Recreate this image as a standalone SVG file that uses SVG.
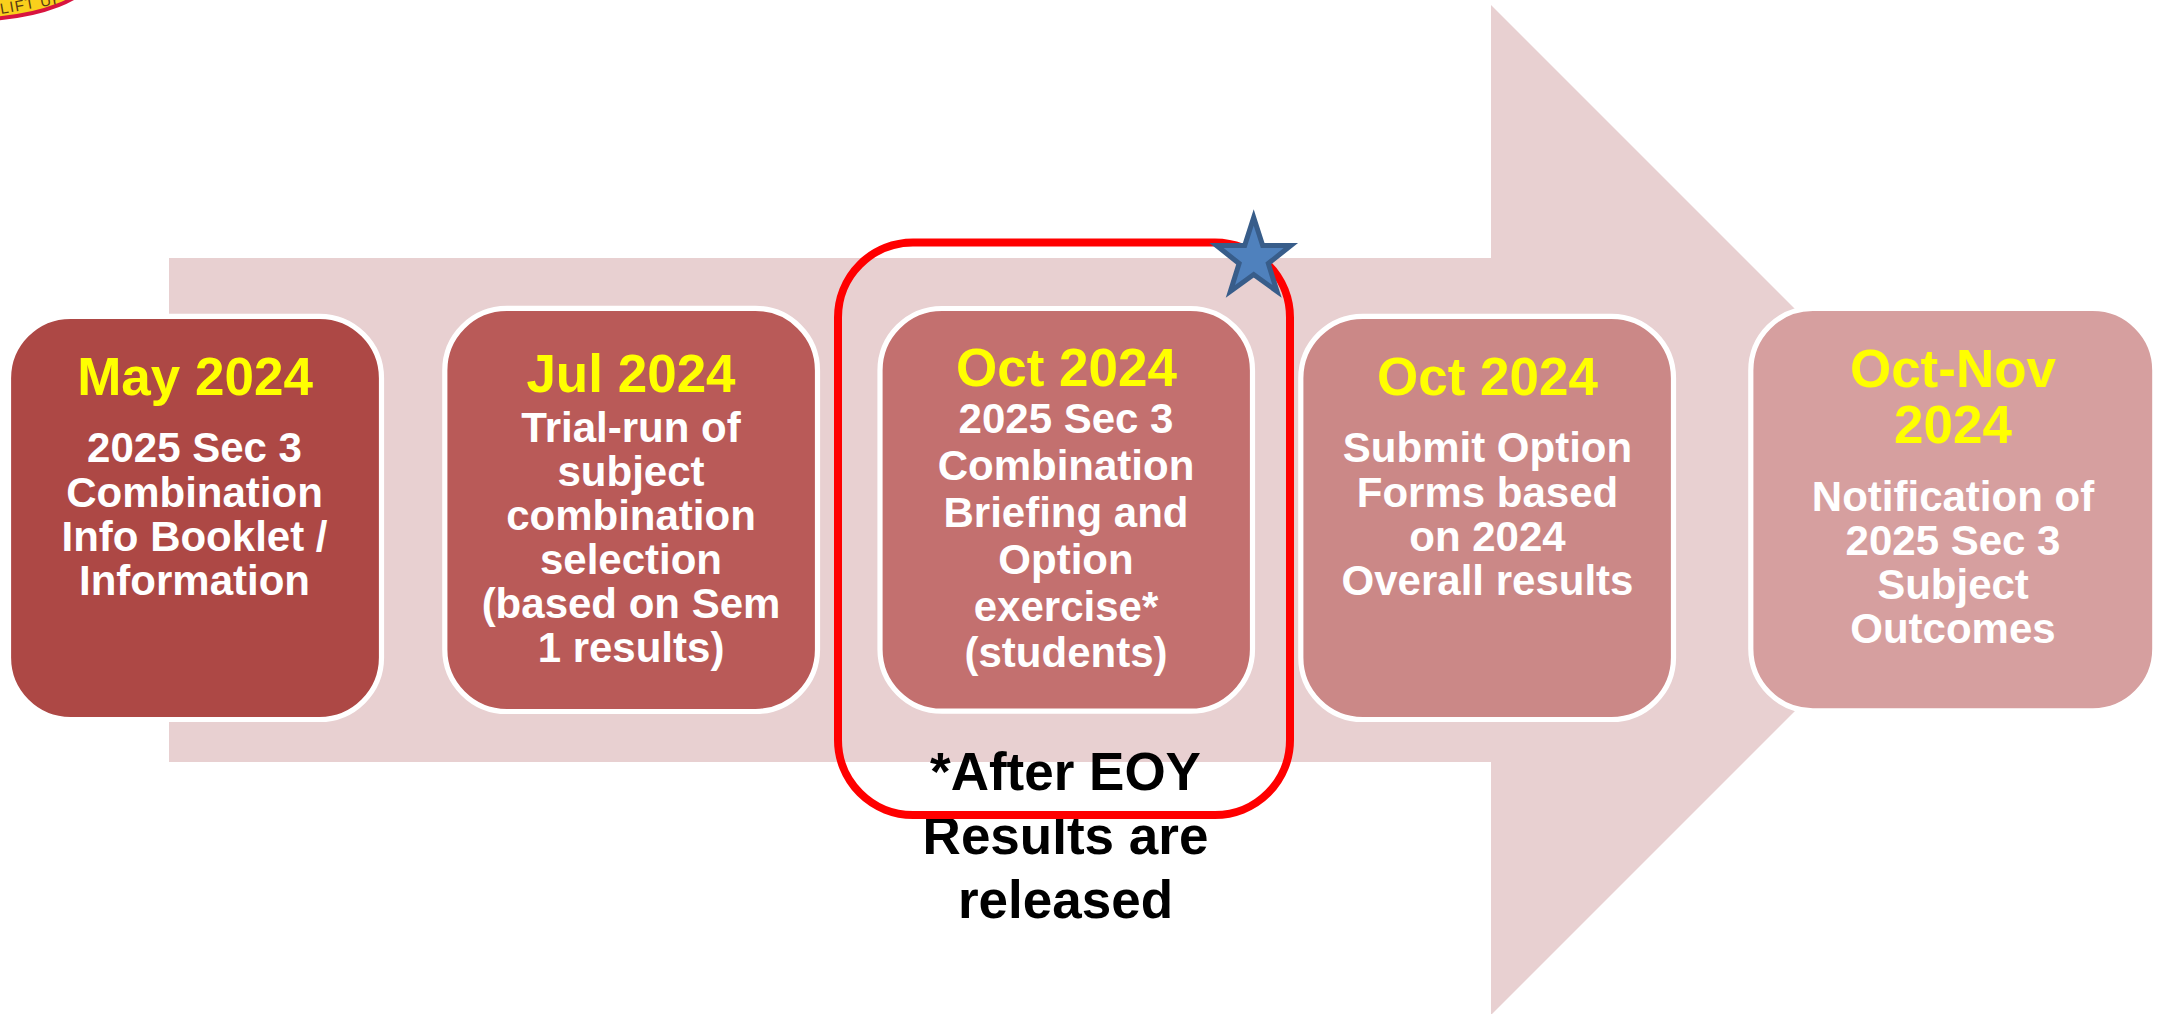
<svg xmlns="http://www.w3.org/2000/svg" width="2158" height="1014" viewBox="0 0 2158 1014">
<style>
text{font-family:"Liberation Sans",Arial,sans-serif;font-weight:bold;text-anchor:middle}
.d{fill:#ffff00;font-size:53px}
.b{fill:#ffffff;font-size:42px}
.n{stroke:#ffffff;stroke-width:5.2}
.k{fill:#000000;font-size:53px}
.l{fill:#5a3a14;font-size:15px;font-weight:normal;text-anchor:start;letter-spacing:1.2px}
</style>
<rect width="2158" height="1014" fill="#ffffff"/>
<g id="logo"><ellipse cx="-30" cy="-29.5" rx="125" ry="49" fill="#f9d01c" stroke="#d8143f" stroke-width="4"/><text class="l" x="1" y="14" transform="rotate(-10 1 14)">LIFT UP</text></g>
<g id="arrow"><polygon points="169,258 1491,258 1491,5 1996,510 1491,1015 1491,762 169,762" fill="#e8d0d1"/></g>
<g id="node-may"><rect class="n" x="8.5" y="316.3" width="373" height="403.2" rx="62" fill="#ad4845"/>
<text class="d" x="195" y="394.7">May 2024</text>
<text class="b" x="194.5" y="461.7">2025 Sec 3</text><text class="b" x="194.5" y="506.5">Combination</text><text class="b" x="194.5" y="550.5">Info Booklet /</text><text class="b" x="194.5" y="594.5">Information</text></g>
<g id="node-jul"><rect class="n" x="444.8" y="308.4" width="372.7" height="403.1" rx="62" fill="#b95a58"/>
<text class="d" x="631" y="392.3">Jul 2024</text>
<text class="b" x="631" y="441.5">Trial-run of</text><text class="b" x="631" y="485.5">subject</text><text class="b" x="631" y="529.5">combination</text><text class="b" x="631" y="574">selection</text><text class="b" x="631" y="618">(based on Sem</text><text class="b" x="631" y="662">1 results)</text></g>
<g id="note"><text class="k" x="1065.5" y="790">*After EOY</text><text class="k" x="1065.5" y="854">Results are</text><text class="k" x="1065.5" y="917.5">released</text></g>
<g id="highlight"><rect x="838" y="242.5" width="452" height="572.5" rx="75" fill="none" stroke="#ff0000" stroke-width="8"/></g>
<g id="node-oct1"><rect class="n" x="880" y="308.5" width="372.5" height="402.7" rx="62" fill="#c3706f"/>
<text class="d" x="1066.5" y="385.7">Oct 2024</text>
<text class="b" x="1066" y="433.3">2025 Sec 3</text><text class="b" x="1066" y="480">Combination</text><text class="b" x="1066" y="526.7">Briefing and</text><text class="b" x="1066" y="574">Option</text><text class="b" x="1066" y="621">exercise*</text><text class="b" x="1066" y="667.3">(students)</text></g>
<g id="star"><polygon points="1253.7,217.5 1262.7,245.5 1290.9,245.5 1268.3,263.5 1277,291.4 1253.7,274.5 1230.4,291.4 1239.1,263.5 1216.5,245.5 1244.7,245.5" fill="#4f81bd" stroke="#385d8a" stroke-width="5"/></g>
<g id="node-oct2"><rect class="n" x="1300.8" y="316.3" width="372.7" height="403.2" rx="62" fill="#cb8887"/>
<text class="d" x="1487.5" y="394.7">Oct 2024</text>
<text class="b" x="1487.5" y="461.7">Submit Option</text><text class="b" x="1487.5" y="506.5">Forms based</text><text class="b" x="1487.5" y="550.5">on 2024</text><text class="b" x="1487.5" y="594.5">Overall results</text></g>
<g id="node-octnov"><rect class="n" x="1750.8" y="308.5" width="404" height="402.3" rx="62" fill="#d69f9f"/>
<text class="d" x="1953" y="387.3">Oct-Nov</text><text class="d" x="1953" y="442.7">2024</text>
<text class="b" x="1953" y="510.7">Notification of</text><text class="b" x="1953" y="554.5">2025 Sec 3</text><text class="b" x="1953" y="599.3">Subject</text><text class="b" x="1953" y="643.3">Outcomes</text></g>
</svg>
